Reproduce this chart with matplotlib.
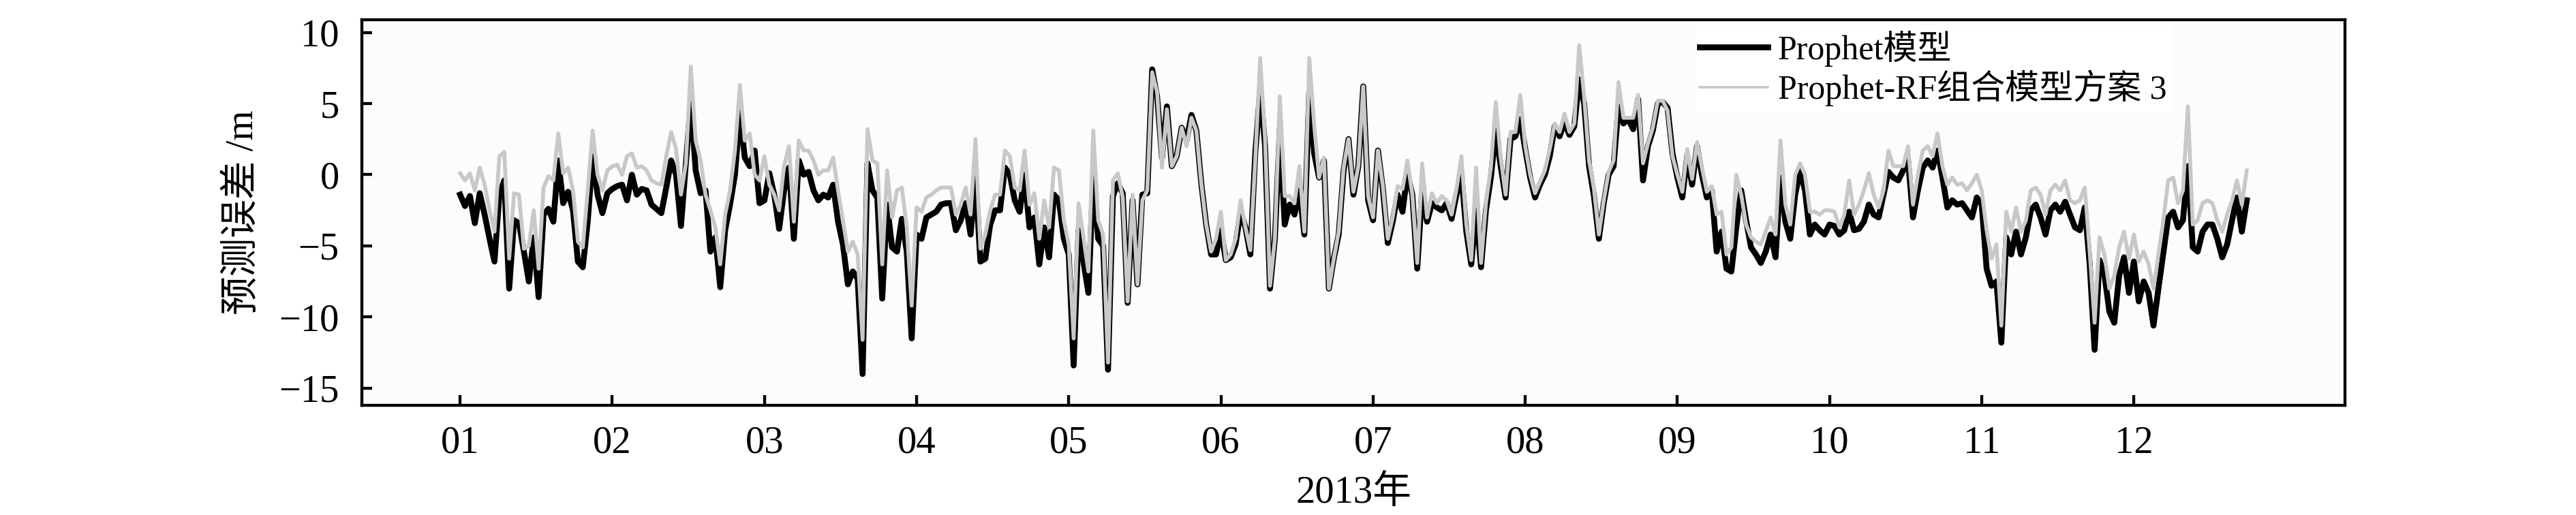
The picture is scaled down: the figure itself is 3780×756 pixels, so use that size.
import numpy as np
import matplotlib
matplotlib.use("Agg")
from matplotlib import pyplot as plt

# daily prediction errors for 2013 (m)
prophet = [
    -1.4, -2.2, -1.5, -3.4, -1.3, -2.8, -4.5, -6.1, -1.4, -0.4,
    -8.0, -3.2, -3.4, -5.4, -7.5, -4.4, -8.6, -2.8, -2.4, -3.3,
    1.0, -2.0, -1.2, -2.5, -6.1, -6.5, -3.3, 1.3, -1.4, -2.7,
    -1.3, -1.0, -0.8, -0.7, -1.8, 0.0, -1.4, -1.0, -1.1, -2.1,
    -2.4, -2.7, -0.9, 1.0, 0.0, -3.6, 0.8, 5.1, 0.3, -1.3,
    -1.1, -5.4, -4.4, -7.9, -3.9, -2.1, 0.0, 4.4, 1.2, 0.6,
    1.7, -2.0, -1.8, 0.1, -1.4, -3.8, -1.1, 0.5, -4.5, 1.0,
    0.0, 0.2, -1.1, -1.8, -1.4, -1.6, -0.7, -3.3, -4.9, -7.7,
    -6.8, -7.3, -14.0, 0.8, -1.1, -1.6, -8.7, -2.1, -5.1, -5.4,
    -3.1, -5.4, -11.5, -4.2, -4.5, -3.0, -2.8, -2.6, -2.1, -2.0,
    -2.0, -3.9, -3.2, -2.0, -4.2, -0.2, -6.1, -5.9, -3.5, -2.5,
    -2.5, 0.5, 0.0, -1.8, -2.6, 0.0, -3.7, -3.0, -6.3, -3.7,
    -5.8, -1.4, -1.8, -4.5, -5.6, -13.4, -3.9, -6.1, -8.3, -0.2,
    -4.5, -5.0, -13.7, -1.5, -0.6, -1.3, -9.0, -1.8, -7.7, -1.4,
    -1.3, 7.4, 5.5, 1.2, 4.8, 0.6, 1.3, 3.3, 2.4, 4.2,
    3.1, -0.6, -3.5, -5.6, -5.6, -3.9, -6.0, -5.8, -4.9, -2.6,
    -3.7, -5.6, 1.5, 6.0, 2.0, -8.0, -4.5, 3.2, -3.5, -2.1,
    -2.8, -1.1, -4.2, 5.8, 1.5, -0.2, 1.0, -8.0, -5.9, -4.2,
    0.3, 2.5, -1.4, 0.6, 6.2, -1.8, -3.2, 1.7, -1.0, -4.8,
    -3.3, -1.4, -2.6, 0.1, -1.4, -6.6, -1.1, -3.3, -2.0, -2.3,
    -2.5, -2.0, -3.1, -1.4, 0.0, -4.0, -6.3, -2.5, -6.5, -2.5,
    -0.2, 3.1, 0.6, -1.6, 2.5, 2.7, 3.9, 1.8, -0.2, -1.6,
    -0.7, 0.0, 1.3, 3.4, 2.7, 3.7, 2.8, 3.4, 6.7, 5.0,
    0.6, -1.5, -4.5, -2.0, 0.0, 0.6, 4.8, 3.6, 3.9, 3.2,
    5.3, -0.4, 2.0, 3.1, 5.0, 5.1, 4.7, 1.5, -0.2, -1.6,
    1.3, -0.7, 2.0, 0.0, -1.6, -1.1, -5.4, -4.0, -6.6, -6.8,
    -3.7, -1.1, -3.2, -5.1, -5.6, -6.2, -5.4, -4.2, -5.8, -0.2,
    -3.3, -4.5, -1.4, 0.3, -1.1, -4.2, -3.5, -3.9, -4.2, -3.5,
    -3.6, -4.2, -3.9, -2.6, -3.9, -3.8, -3.3, -2.1, -2.8, -3.0,
    -1.4, 0.2, -0.2, -0.4, 0.3, 1.0, -3.0, -1.1, 0.5, 1.0,
    0.5, 1.7, -0.2, -2.3, -1.8, -2.1, -2.0, -2.5, -3.0, -1.6,
    -2.1, -6.6, -7.8, -7.5, -11.8, -4.4, -5.6, -4.0, -5.6, -4.4,
    -2.5, -2.1, -3.0, -4.2, -2.5, -2.1, -2.6, -1.9, -2.8, -3.7,
    -3.9, -2.3, -6.3, -12.3, -6.0, -7.0, -9.6, -10.4, -7.1, -5.8,
    -8.3, -6.1, -8.9, -7.5, -8.3, -10.6, -8.0, -5.5, -3.0, -2.6,
    -3.7, -3.2, 0.6, -5.1, -5.4, -4.0, -3.5, -3.5, -4.5, -5.8,
    -4.9, -3.2, -1.6, -4.0, -1.8,
]

prophet_rf = [
    0.1, -0.4, 0.1, -1.1, 0.5, -0.7, -2.5, -4.0, 1.3, 1.6,
    -5.9, -1.3, -1.4, -5.2, -5.0, -2.5, -6.6, -0.9, -0.1, -0.4,
    2.9, 0.1, 0.5, -1.1, -4.7, -5.1, -1.1, 3.1, 0.0, -1.1,
    0.3, 0.6, 0.7, 0.0, 1.3, 1.5, 0.5, 0.6, 0.3, -0.4,
    -0.6, -0.7, 1.3, 3.0, 1.8, -1.4, 0.8, 7.6, 2.4, 1.0,
    -1.4, -2.5, -3.7, -6.3, -2.8, -1.1, 1.7, 6.3, 2.4, 2.9,
    0.0, -0.4, 1.3, -0.7, -1.4, -2.5, 0.6, 2.0, -3.3, 2.4,
    1.7, 1.7, 1.0, 0.0, 0.3, 0.3, 1.2, -1.1, -3.2, -5.4,
    -4.7, -5.6, -11.6, 3.2, 1.0, 0.8, -6.3, 0.3, -3.0, -1.1,
    -0.9, -3.7, -9.2, -2.3, -2.6, -1.6, -1.4, -1.1, -0.9, -0.9,
    -0.9, -2.8, -2.1, -0.9, -2.8, 2.5, -5.2, -4.2, -2.5, -1.4,
    -1.4, 1.7, 1.3, -0.9, -1.1, 1.7, -2.1, -1.3, -4.5, -1.8,
    -3.7, 0.5, 0.3, -3.2, -4.9, -11.5, -2.0, -4.4, -6.8, 3.1,
    -3.2, -4.2, -13.2, -0.4, 0.1, -1.6, -8.9, -1.4, -7.7, -1.8,
    -1.1, 7.2, 5.8, 0.5, 4.6, 0.6, 1.3, 3.3, 2.0, 4.0,
    3.1, -0.6, -3.5, -5.4, -4.5, -2.6, -6.0, -5.6, -4.5, -1.8,
    -3.7, -5.3, 1.0, 8.2, 2.5, -7.8, -4.5, 5.5, -1.5, -1.5,
    -2.0, 0.6, -4.0, 8.2, 3.5, -0.2, 1.2, -8.0, -5.9, -4.0,
    0.5, 2.5, -1.2, 0.6, 6.2, -1.5, -3.0, 1.7, -0.8, -4.5,
    -3.0, -0.8, -1.0, 1.0, -1.4, -6.2, 0.8, -3.0, -1.3, -2.0,
    -1.5, -1.8, -2.8, -1.0, 1.3, -3.5, -6.0, 0.5, -6.2, -2.0,
    0.5, 5.1, 1.2, -1.4, 3.0, 3.0, 5.6, 2.0, 0.0, -1.3,
    -0.5, 0.3, 1.8, 3.6, 3.0, 4.3, 3.0, 3.6, 9.1, 5.5,
    1.0, -1.0, -4.2, -1.8, 0.2, 1.0, 6.5, 4.0, 4.0, 4.0,
    5.6, 0.8, 2.2, 3.3, 5.2, 5.2, 4.5, 1.3, 0.0, -1.2,
    1.8, -0.3, 2.3, 0.5, -1.2, -0.8, -2.8, -2.6, -5.6, -5.1,
    0.0, -1.4, -3.5, -4.4, -4.7, -4.9, -4.0, -3.0, -4.2, 2.4,
    -2.1, -3.5, 0.0, 0.8, 0.0, -2.6, -2.6, -2.8, -2.5, -2.5,
    -2.6, -3.7, -2.8, -0.4, -2.8, -2.1, -1.1, 0.1, -1.4, -2.3,
    -1.1, 1.7, 0.6, 0.6, 0.6, 2.0, -2.1, 0.0, 1.7, 2.0,
    1.3, 2.9, 0.6, -0.7, -0.2, -0.7, -0.6, -1.1, -0.6, 0.0,
    -1.1, -3.9, -5.9, -4.9, -10.6, -2.6, -4.0, -2.3, -4.0, -3.2,
    -1.1, -0.9, -1.4, -2.8, -1.1, -0.7, -1.1, -0.4, -1.8, -2.0,
    -1.8, -0.9, -5.4, -10.4, -4.4, -5.6, -8.0, -7.1, -5.1, -4.0,
    -5.9, -4.2, -6.1, -5.4, -6.3, -8.0, -5.6, -3.2, -0.4, -0.2,
    -2.0, -1.1, 4.8, -3.5, -3.2, -2.0, -1.8, -2.0, -3.2, -4.0,
    -2.8, -1.8, -0.4, -2.1, 0.3,
]

month_labels = ["01", "02", "03", "04", "05", "06",
                "07", "08", "09", "10", "11", "12"]
series_names = ["Prophet模型", "Prophet-RF组合模型方案 3"]

plt.rcParams['font.family'] = ['Liberation Serif', 'Noto Sans CJK SC']
plt.rcParams['axes.unicode_minus'] = True

fig = plt.figure(figsize=(15.75, 3.15), dpi=240)
ax = fig.add_axes([0.1405, 0.213, 0.7698, 0.749])
ax.set_facecolor('#fcfcfc')

x1 = np.arange(len(prophet))
x2 = np.arange(len(prophet_rf))
ax.plot(x1, prophet, color='black', lw=2.6, label=series_names[0],
        solid_joinstyle='round')
ax.plot(x2, prophet_rf, color='#c8c8c8', lw=1.7, label=series_names[1],
        solid_joinstyle='round')

ax.set_xlim(-20, 384)
ax.set_ylim(-16.2, 10.9)
ax.set_xticks(np.arange(12) * 31)
ax.set_xticklabels(month_labels)
ax.set_yticks([-15, -10, -5, 0, 5, 10])

ax.tick_params(direction='in', length=4.5, width=1.3, labelsize=17,
               top=False, right=False)
ax.tick_params(axis='x', pad=9)
ax.tick_params(axis='y', pad=10)
for s in ax.spines.values():
    s.set_linewidth(1.3)

ax.set_xlabel("2013年", fontsize=17, labelpad=6)
ax.set_ylabel("预测误差 /m", fontsize=17, labelpad=8)

leg = ax.legend(loc='upper left', bbox_to_anchor=(0.672, 0.985),
                fontsize=15, frameon=True, fancybox=False,
                edgecolor='none', facecolor='white', framealpha=1,
                handlelength=2.0, handletextpad=0.3, labelspacing=0.1,
                borderpad=0.15, borderaxespad=0)
leg.get_lines()[1].set_linewidth(1.1)

fig.savefig("out.png", dpi=240)
